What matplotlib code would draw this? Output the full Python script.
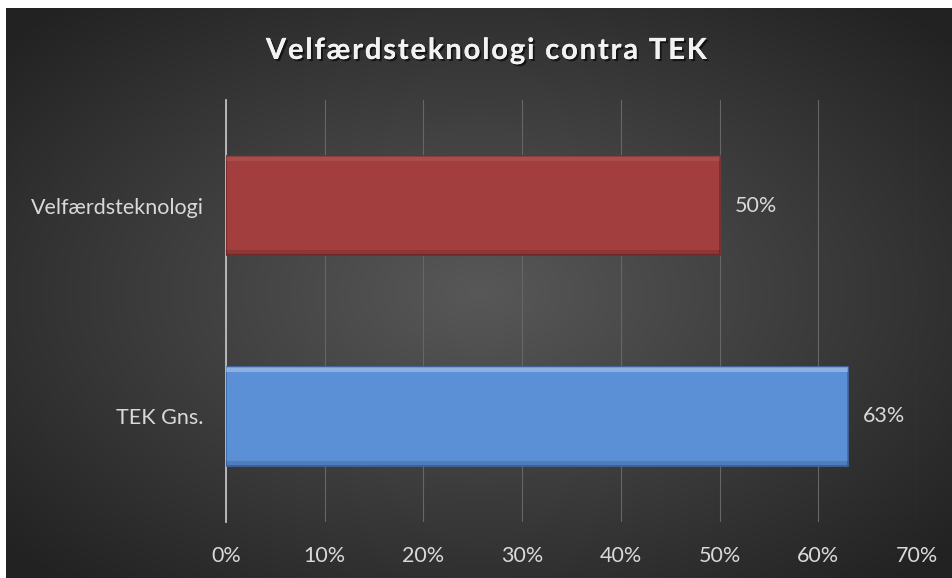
import matplotlib
matplotlib.use('Agg')
import matplotlib.pyplot as plt
import numpy as np
import matplotlib.patheffects as pe

categories = ['Velfærdsteknologi', 'TEK Gns.']
values = [0.50, 0.63]
bar_colors = ['#a23e3d', '#5b8fd6']
edge_colors = ['#7a2a2a', '#3f6aa8']
highlight = [0.08, 0.3]
ticks = [0, 0.1, 0.2, 0.3, 0.4, 0.5, 0.6, 0.7]
tick_labels = ['0%', '10%', '20%', '30%', '40%', '50%', '60%', '70%']
title = 'Velfærdsteknologi contra TEK'

plt.rcParams['font.family'] = ['Lato', 'DejaVu Sans']

fig = plt.figure(figsize=(9.52, 5.78), dpi=100)
fig.patch.set_facecolor('white')

# dark radial gradient background, with white strip at top/left
bg = fig.add_axes([6/952, 0, 1 - 6/952, 1 - 8/578])
yy, xx = np.mgrid[-1:1:300j, -1:1:500j]
r = np.sqrt(xx ** 2 + yy ** 2)
grad = np.clip(1 - r / 1.35, 0, 1)
c0 = np.array([0x22, 0x22, 0x22]) / 255
c1 = np.array([0x58, 0x58, 0x58]) / 255
img = c0[None, None, :] + (c1 - c0)[None, None, :] * grad[:, :, None]
bg.imshow(img, aspect='auto', extent=[0, 1, 0, 1], interpolation='bilinear')
bg.set_axis_off()

ax = fig.add_axes([226/952, 1 - 522/578, (917 - 226)/952, (522 - 100)/578])
ax.set_facecolor('none')

y = np.arange(len(categories))
ax.barh(y, values, height=0.47, color=bar_colors,
        edgecolor=edge_colors, linewidth=1.2, zorder=3)
ax.set_ylim(1.5, -0.5)
ax.set_xlim(0, 0.7)

# bevel light on top edge, shade on bottom edge
for i, v in enumerate(values):
    ax.barh(y[i] - 0.47/2 + 0.012, v, height=0.024, color='white',
            alpha=highlight[i], linewidth=0, zorder=4)
    ax.barh(y[i] + 0.47/2 - 0.012, v, height=0.024, color='black',
            alpha=0.12, linewidth=0, zorder=4)

for i, v in enumerate(values):
    ax.text(v + 0.015, y[i], f'{round(v*100):.0f}%', va='center', ha='left',
            color='#d9d9d9', fontsize=15.5)

ax.set_xticks(ticks)
ax.set_xticklabels(tick_labels, color='#d9d9d9', fontsize=15.5)
ax.set_yticks(y)
ax.set_yticklabels(categories, color='#d9d9d9', fontsize=15.5)
ax.tick_params(axis='y', length=0, pad=16)
ax.tick_params(axis='x', length=0, pad=17)
ax.grid(axis='x', color='#666666', linewidth=0.8, zorder=0)
for s in ['top', 'right', 'bottom']:
    ax.spines[s].set_visible(False)
ax.spines['left'].set_color('#bfbfbf')
ax.spines['left'].set_linewidth(1.3)

spaced = '\u200a'.join(title)
fig.text(487/952, 1 - 51/578, spaced, ha='center', va='center', color='#f2f2f2',
         fontsize=21, fontweight='bold',
         path_effects=[pe.withSimplePatchShadow(offset=(1.5, -1.5), shadow_rgbFace='black', alpha=0.6), pe.Normal()])

fig.savefig('out.png', dpi=100, facecolor=fig.get_facecolor())
